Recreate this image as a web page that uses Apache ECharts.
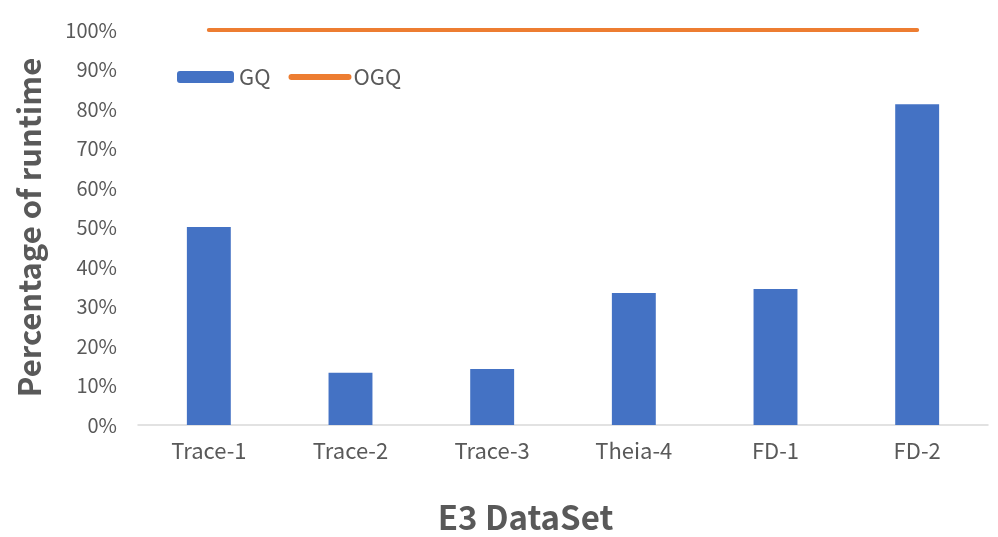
<!DOCTYPE html>
<html>
<head>
<meta charset="utf-8">
<script src="https://cdn.jsdelivr.net/npm/echarts@6/dist/echarts.min.js"></script>
<style>
  html, body { margin: 0; padding: 0; background: #fff; }
  #chart { width: 998px; height: 537px; }
</style>
</head>
<body>
<div id="chart"></div>
<script>
  var categories = ['Trace-1', 'Trace-2', 'Trace-3', 'Theia-4', 'FD-1', 'FD-2'];
  var gqValues = [50.1, 13.2, 14.2, 33.4, 34.4, 81.2];
  var ogqValues = [100, 100, 100, 100, 100, 100];

  var font = '"Noto Sans CJK SC", "Noto Sans", sans-serif';
  var chart = echarts.init(document.getElementById('chart'));

  chart.setOption({
    animation: false,
    textStyle: { fontFamily: font },
    legend: {
      left: 172,
      top: 61,
      itemWidth: 57,
      itemHeight: 12,
      itemGap: 18,
      textStyle: { fontSize: 22, color: '#595959', fontFamily: font },
      data: [
        { name: 'GQ' },
        {
          name: 'OGQ',
          itemStyle: { color: 'rgba(0,0,0,0)', borderWidth: 0 },
          lineStyle: { color: '#ED7D31', width: 6, cap: 'round' }
        }
      ]
    },
    grid: {
      left: 138,
      right: 10,
      top: 30,
      bottom: 112,
      containLabel: false,
      outerBoundsMode: 'none'
    },
    xAxis: {
      type: 'category',
      data: categories,
      axisTick: { show: false },
      axisLine: { lineStyle: { color: '#d9d9d9', width: 1.5 } },
      axisLabel: { fontSize: 22, color: '#595959', margin: 15 },
      name: 'E3 DataSet',
      nameLocation: 'middle',
      nameGap: 76,
      nameTextStyle: { fontSize: 33, fontWeight: 'bold', color: '#595959', padding: [0, 75, 0, 0] }
    },
    yAxis: {
      type: 'value',
      min: 0,
      max: 100,
      interval: 10,
      splitLine: { show: false },
      axisLine: { show: false },
      axisTick: { show: false },
      axisLabel: {
        fontSize: 20, color: '#595959', margin: 21,
        formatter: function (v) { return v + '%'; }
      },
      name: 'Percentage of runtime',
      nameLocation: 'middle',
      nameGap: 93,
      nameTextStyle: { fontSize: 31, fontWeight: 'bold', color: '#595959' }
    },
    series: [
      {
        name: 'GQ',
        type: 'bar',
        data: gqValues,
        barWidth: '31%',
        itemStyle: { color: '#4472C4' }
      },
      {
        name: 'OGQ',
        type: 'line',
        data: ogqValues,
        symbol: 'none',
        lineStyle: { color: '#ED7D31', width: 4, cap: 'round' },
        itemStyle: { color: '#ED7D31' }
      }
    ]
  });
</script>
</body>
</html>
